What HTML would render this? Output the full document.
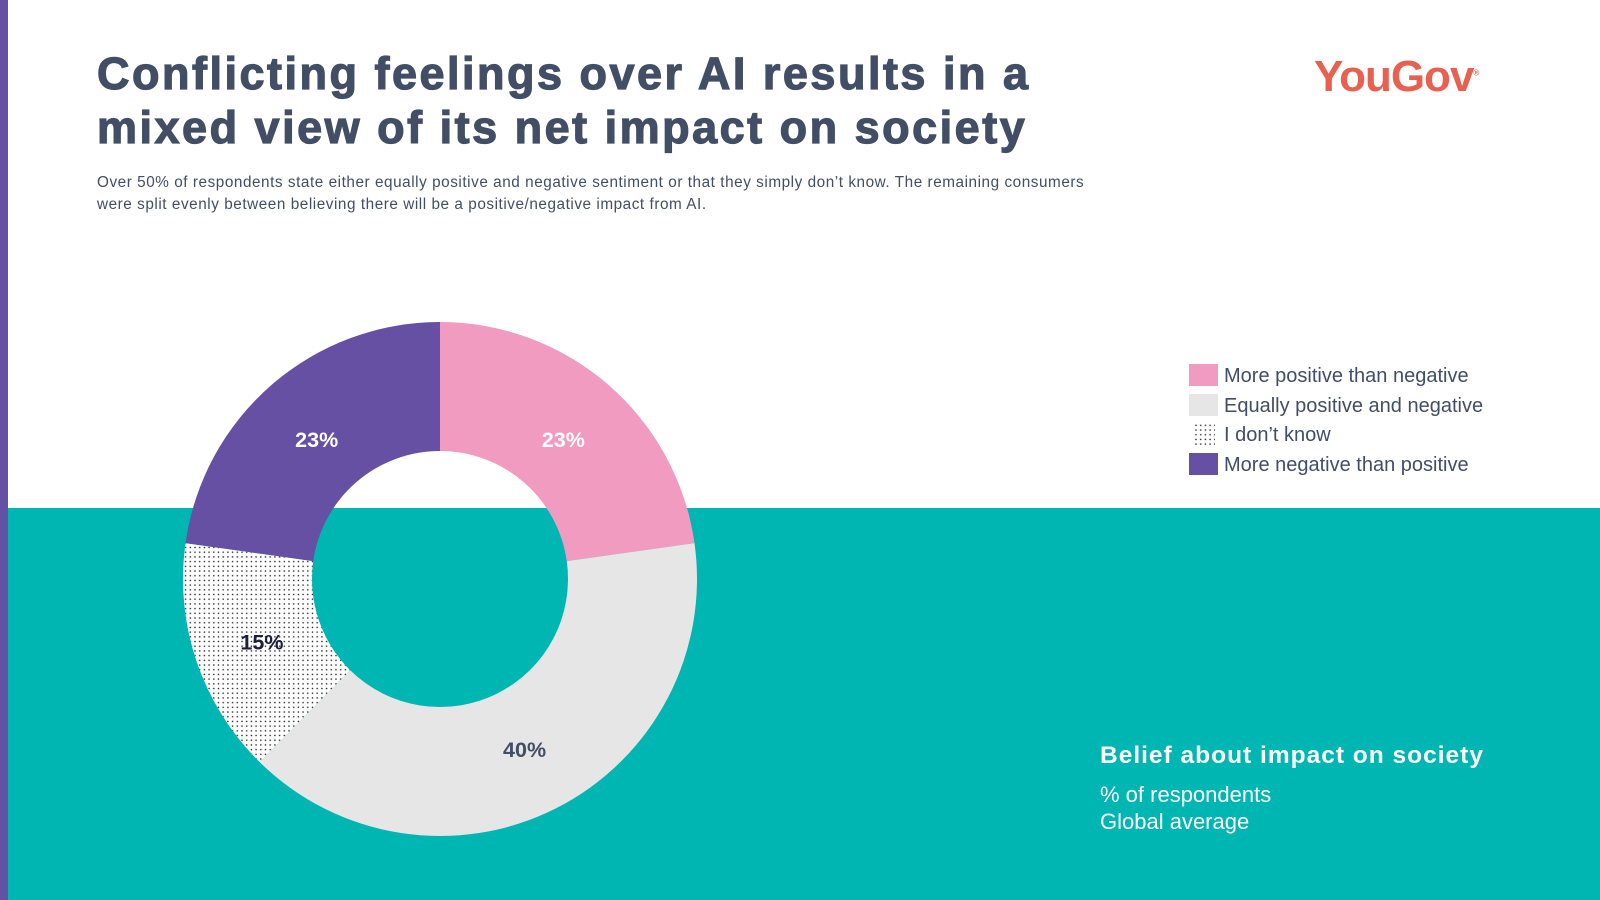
<!DOCTYPE html>
<html><head><meta charset="utf-8"><style>
html,body{margin:0;padding:0;width:1600px;height:900px;overflow:hidden;background:#fff;font-family:"Liberation Sans",Arial,sans-serif;}
.abs{position:absolute;}
</style></head><body>
<div class="abs" style="left:0;top:0;width:8px;height:900px;background:#6650a3"></div>
<div class="abs" style="left:8px;top:508px;width:1592px;height:392px;background:#00b6b2"></div>
<div class="abs" style="left:97px;top:47px;font-size:45px;font-weight:900;line-height:54px;color:#424e65;letter-spacing:2.5px;-webkit-text-stroke:1.2px #424e65">Conflicting feelings over AI results in a<br>mixed view of its net impact on society</div>
<div class="abs" style="left:97px;top:172px;font-size:15.3px;line-height:21.5px;color:#424e65;letter-spacing:0.55px">Over 50% of respondents state either equally positive and negative sentiment or that they simply don’t know. The remaining consumers<br>were split evenly between believing there will be a positive/negative impact from AI.</div>
<div class="abs" style="left:1314px;top:52px;font-size:44px;font-weight:bold;color:#e8604f;letter-spacing:-1px">YouGov<sup style="font-size:8px;letter-spacing:0">®</sup></div>
<svg class="abs" style="left:0;top:0" width="1600" height="900">
<defs><pattern id="dots" width="4.7" height="4.7" patternUnits="userSpaceOnUse"><rect width="4.7" height="4.7" fill="#fff"/><circle cx="2.3" cy="2.3" r="0.8" fill="#222"/></pattern></defs>
<g id="slices"></g><g id="labels"></g>
</svg>
<div class="abs" style="left:1189px;top:362px;font-size:20px;color:#424e65;line-height:29.6px">
<div><span style="display:inline-block;width:29px;height:22px;background:#f19bc0;vertical-align:-4px;margin-right:6px"></span>More positive than negative</div>
<div><span style="display:inline-block;width:29px;height:22px;background:#e6e6e6;vertical-align:-4px;margin-right:6px"></span>Equally positive and negative</div>
<div><svg width="29" height="22" style="vertical-align:-4px;margin-right:6px"><rect x="4" y="0" width="22" height="22" fill="url(#dots)"/></svg>I don’t know</div>
<div><span style="display:inline-block;width:29px;height:22px;background:#6650a3;vertical-align:-4px;margin-right:6px"></span>More negative than positive</div>
</div>
<div class="abs" style="left:1100px;top:742px;color:#fff">
<div style="font-size:24.5px;font-weight:bold;letter-spacing:1px">Belief about impact on society</div>
<div style="font-size:22px;line-height:27px;margin-top:11px">% of respondents<br>Global average</div>
</div>
<script>
const categories=["More positive than negative","Equally positive and negative","I don't know","More negative than positive"];
const values=[23,40,15,23];
const labels=["23%","40%","15%","23%"];
const fills=["#f19bc0","#e6e6e6","url(#dots)","#6650a3"];
const labelColors=["#fff","#424e65","#1e1e3c","#fff"];
const cx=440,cy=579,R=257,r=128,LR=188;
const total=values.reduce((a,b)=>a+b,0);
const ns="http://www.w3.org/2000/svg";
const gS=document.getElementById('slices'),gL=document.getElementById('labels');
function pt(a,rad){return [cx+rad*Math.sin(a),cy-rad*Math.cos(a)];}
let acc=0;
values.forEach((v,i)=>{
  const a0=acc/total*2*Math.PI;acc+=v;const a1=acc/total*2*Math.PI;
  const lg=(a1-a0)>Math.PI?1:0;
  const [x0,y0]=pt(a0,R),[x1,y1]=pt(a1,R),[x2,y2]=pt(a1,r),[x3,y3]=pt(a0,r);
  const p=document.createElementNS(ns,'path');
  p.setAttribute('d',`M${x0},${y0}A${R},${R} 0 ${lg} 1 ${x1},${y1}L${x2},${y2}A${r},${r} 0 ${lg} 0 ${x3},${y3}Z`);
  p.setAttribute('fill',fills[i]);
  
  
  gS.appendChild(p);
  const [lx,ly]=pt((a0+a1)/2,LR);
  const t=document.createElementNS(ns,'text');
  t.setAttribute('x',lx);t.setAttribute('y',ly+10);
  t.setAttribute('text-anchor','middle');
  t.setAttribute('font-size','21.5');t.setAttribute('font-weight','bold');
  t.setAttribute('font-family','Liberation Sans, Arial, sans-serif');
  t.setAttribute('fill',labelColors[i]);
  t.textContent=labels[i];
  
  
  gL.appendChild(t);
});
</script>
</body></html>
